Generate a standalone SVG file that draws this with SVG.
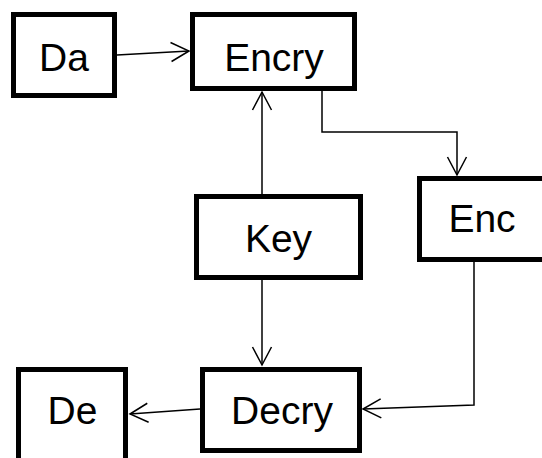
<svg xmlns="http://www.w3.org/2000/svg" width="542" height="458" viewBox="0 0 542 458">
<defs>
<style>
.box{fill:#fff;stroke:#000;stroke-width:5}
.lbl{font-family:"Liberation Sans",Arial,sans-serif;font-size:39px;fill:#000;text-anchor:middle}
.conn{fill:none;stroke:#000;stroke-width:1.5}
</style>
<marker id="arr" markerUnits="userSpaceOnUse" viewBox="-20 -12 22 24" refX="0" refY="0" markerWidth="22" markerHeight="24" orient="auto">
<path d="M-18,-9.5 L0,0 L-18,9.5" fill="none" stroke="#000" stroke-width="1.5"/>
</marker>
</defs>
<rect width="542" height="458" fill="#fff"/>
<g id="connectors">
<path class="conn" d="M117,55 L189,51" marker-end="url(#arr)"/>
<path class="conn" d="M262,194 L262,92" marker-end="url(#arr)"/>
<path class="conn" d="M262,280 L262,365" marker-end="url(#arr)"/>
<path class="conn" d="M322,91 V132 H457 V175" marker-end="url(#arr)"/>
<path class="conn" d="M474,262 V405 L363,409" marker-end="url(#arr)"/>
<path class="conn" d="M200,409 L130,414" marker-end="url(#arr)"/>
</g>
<g id="node-da">
<rect class="box" x="13.5" y="14.5" width="101" height="81"/>
<text class="lbl" x="64" y="71">Da</text>
</g>
<g id="node-encry">
<rect class="box" x="192.5" y="14.5" width="162" height="74"/>
<text class="lbl" x="274" y="71">Encry</text>
</g>
<g id="node-key">
<rect class="box" x="196.5" y="196.5" width="164" height="81"/>
<text class="lbl" x="278.5" y="252">Key</text>
</g>
<g id="node-enc">
<rect class="box" x="419.5" y="178.5" width="130" height="81"/>
<text class="lbl" x="482" y="232">Enc</text>
</g>
<g id="node-decry">
<rect class="box" x="202.5" y="369.5" width="157" height="81"/>
<text class="lbl" x="282" y="424">Decry</text>
</g>
<g id="node-de">
<rect class="box" x="18.5" y="369.5" width="107" height="100"/>
<text class="lbl" x="72.5" y="424">De</text>
</g>
</svg>
